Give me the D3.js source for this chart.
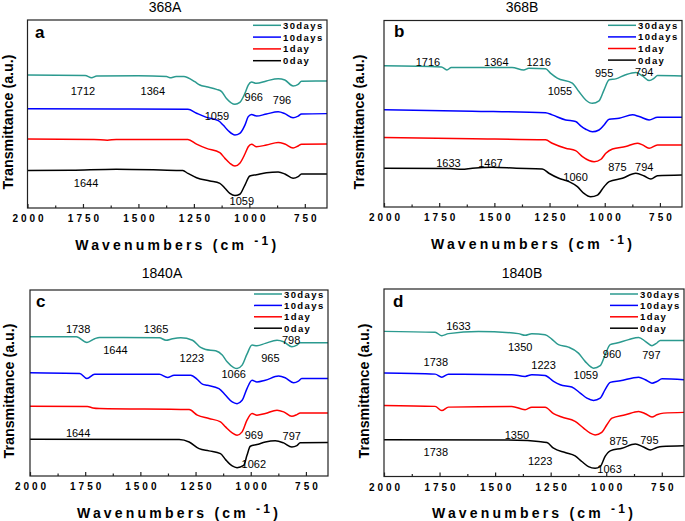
<!DOCTYPE html>
<html><head><meta charset="utf-8">
<script src="https://cdn.jsdelivr.net/npm/d3@7"></script>
<style>body{margin:0;background:#fff}svg{display:block;font-family:"Liberation Sans",Arial,sans-serif}</style>
</head><body>
<svg id="c" width="685" height="521"></svg>
<script>
// ---------- data ----------
const seriesNames = ["30days","10days","1day","0day"];
const seriesColors = ["#2b9a8f","#0000ff","#ff0000","#000000"];
const majorTicks = [2000,1750,1500,1250,1000,750];
const minorTicks = [1875,1625,1375,1125,875];
const panelTitles = ["368A","368B","1840A","1840B"];
const panelLetters = ["a","b","c","d"];

// panel a (368A) : [wavenumber, transmittance a.u.]
const a30 = [[2000,70.7],[1740,70.5],[1711,69.3],[1688,70.2],[1500,70.4],[1373,69.9],[1358,69.3],[1330,69.9],[1295,69.9],[1277,69.3],[1246,67.2],[1223,65.4],[1193,64.5],[1148,63.1],[1125,61.9],[1103,58.3],[1065,55.2],[1043,56.2],[1020,61.0],[1005,65.4],[990,67.0],[968,66.3],[923,67.6],[870,68.8],[840,68.1],[803,64.9],[780,65.8],[765,67.4],[700,67.6],[650,67.6]];
const a10 = [[2000,52.8],[1600,52.7],[1277,52.5],[1238,50.4],[1193,48.2],[1140,46.5],[1118,44.1],[1095,41.1],[1065,38.8],[1043,39.7],[1020,44.1],[1005,48.6],[990,49.8],[968,48.9],[923,50.0],[870,51.2],[840,50.2],[803,48.0],[780,48.9],[765,50.0],[650,50.2]];
const a1 = [[2000,36.7],[1700,36.5],[1640,36.1],[1600,36.5],[1277,36.5],[1238,34.0],[1193,31.7],[1133,29.4],[1110,26.4],[1088,23.8],[1065,22.3],[1043,23.8],[1020,28.7],[1005,32.6],[990,33.9],[968,32.6],[923,33.5],[870,34.9],[840,34.0],[803,31.9],[780,33.0],[765,33.9],[650,34.0]];
const a0 = [[2000,19.9],[1800,20.1],[1600,20.6],[1400,20.2],[1300,19.9],[1277,18.4],[1238,16.1],[1178,14.4],[1133,13.1],[1110,10.5],[1088,7.8],[1065,6.6],[1043,7.3],[1020,12.2],[998,17.0],[968,17.7],[923,18.8],[870,19.1],[840,18.1],[803,15.8],[780,16.7],[765,18.1],[650,18.1]];
// panel b (368B)
const b30 = [[2000,75.7],[1740,75.1],[1715,73.5],[1695,74.8],[1420,74.8],[1367,73.5],[1344,74.4],[1268,74.1],[1246,71.8],[1215,69.1],[1147,66.4],[1117,61.9],[1086,57.4],[1056,55.6],[1026,56.9],[1003,62.8],[980,68.2],[950,68.7],[905,70.9],[859,72.1],[829,70.3],[799,67.8],[776,69.1],[761,70.5],[650,70.3]];
const b10 = [[2000,52.1],[1600,51.4],[1268,50.6],[1238,49.4],[1177,46.7],[1132,45.8],[1109,43.5],[1086,41.7],[1056,40.3],[1026,41.3],[1003,44.0],[980,47.1],[935,47.6],[874,49.4],[844,48.5],[799,46.7],[761,48.1],[650,48.1]];
const b1 = [[2000,37.2],[1600,36.6],[1268,36.0],[1238,34.2],[1177,31.5],[1132,30.2],[1101,27.0],[1071,24.9],[1048,24.3],[1017,25.6],[995,28.8],[965,31.1],[905,32.4],[852,34.2],[829,33.3],[799,31.5],[761,33.3],[650,33.3]];
const b0 = [[2000,20.8],[1700,20.6],[1647,20.2],[1600,20.8],[1511,21.3],[1400,20.8],[1283,20.4],[1253,18.1],[1208,15.4],[1162,13.6],[1124,10.9],[1094,7.3],[1064,5.5],[1033,6.4],[1003,10.9],[980,13.6],[920,15.4],[859,18.1],[821,16.6],[791,15.0],[761,16.8],[650,17.2]];
// panel c (1840A)
const c30 = [[2000,74.9],[1790,74.9],[1742,71.8],[1707,73.8],[1685,74.5],[1414,74.3],[1384,73.0],[1354,73.8],[1317,74.3],[1264,73.0],[1227,69.1],[1204,68.0],[1159,67.3],[1129,65.0],[1107,61.4],[1077,58.3],[1062,57.8],[1039,59.6],[1017,65.5],[994,70.4],[972,70.0],[934,71.3],[881,73.0],[851,72.2],[814,69.5],[791,70.4],[776,71.7],[650,71.7]];
const c10 = [[2000,55.5],[1775,55.1],[1742,52.4],[1707,54.7],[1414,54.7],[1377,53.0],[1347,54.2],[1272,54.2],[1242,51.9],[1219,49.4],[1197,48.8],[1144,47.0],[1114,43.4],[1084,39.8],[1062,38.9],[1039,40.7],[1017,47.0],[994,51.5],[972,50.6],[934,51.5],[874,53.7],[844,52.8],[806,50.1],[784,51.0],[769,52.4],[650,52.4]];
const c1 = [[2000,37.5],[1740,37.3],[1715,36.6],[1685,36.3],[1279,35.7],[1242,32.7],[1189,30.9],[1137,29.1],[1114,26.4],[1084,23.2],[1062,21.9],[1039,23.7],[1017,30.0],[994,33.6],[972,32.7],[934,33.6],[881,35.4],[851,34.5],[814,32.1],[791,33.0],[776,33.9],[650,33.9]];
const c0 = [[2000,19.7],[1324,19.6],[1279,18.3],[1234,14.7],[1189,13.5],[1137,12.0],[1114,8.8],[1084,5.4],[1062,4.5],[1032,5.7],[1017,11.1],[1002,16.0],[972,16.9],[934,18.3],[889,19.0],[851,17.8],[814,15.6],[791,16.3],[776,17.9],[650,18.0]];
// panel d (1840B)
const d30 = [[2000,77.4],[1770,76.9],[1740,75.1],[1710,76.2],[1575,77.4],[1395,76.2],[1365,75.3],[1335,76.2],[1275,75.6],[1245,73.3],[1215,70.3],[1170,69.0],[1125,65.8],[1095,61.4],[1057,57.8],[1027,59.1],[1005,64.9],[982,70.3],[952,71.2],[899,73.0],[854,74.2],[824,72.1],[794,69.8],[772,71.2],[757,72.6],[650,72.6]];
const d10 = [[2000,55.2],[1770,54.6],[1740,53.0],[1710,54.6],[1425,54.3],[1365,53.4],[1335,54.3],[1275,53.9],[1237,50.7],[1207,48.9],[1155,47.7],[1117,44.5],[1087,41.8],[1057,40.6],[1027,41.8],[1005,46.3],[982,50.2],[937,51.1],[854,53.0],[824,51.6],[794,49.8],[772,50.7],[749,52.1],[650,51.6]];
const d1 = [[2000,37.9],[1770,37.4],[1740,35.2],[1710,37.0],[1425,37.4],[1365,35.6],[1335,37.0],[1275,37.0],[1237,33.5],[1200,31.7],[1140,29.4],[1102,25.8],[1072,23.1],[1050,22.2],[1020,23.5],[997,27.6],[974,31.1],[914,32.9],[854,34.7],[824,33.5],[794,31.7],[772,32.9],[742,33.8],[650,34.2]];
const d0 = [[2000,19.6],[1400,19.4],[1305,18.7],[1267,18.1],[1237,15.1],[1185,12.8],[1140,11.0],[1110,8.0],[1080,5.3],[1050,4.4],[1027,5.3],[1005,10.7],[982,13.7],[929,15.1],[869,17.3],[832,15.7],[802,14.2],[772,15.5],[749,16.0],[650,16.4]];

// peak annotations: [label, wavenumber position, a.u. position]
const annA = [["1712",1750,62.2],["1364",1435,62.2],["966",980,59.0],["796",853,57.4],["1059",1146,48.9],["1644",1736,13.3],["1059",1034,3.7]];
const annB = [["1716",1801,78.0],["1364",1491,78.0],["1216",1299,78.0],["955",1003,72.1],["794",821,72.6],["1055",1203,62.4],["1633",1708,23.8],["1467",1518,23.4],["875",943,21.6],["794",821,21.6],["1060",1132,16.3]];
const annC = [["1738",1782,78.8],["1365",1429,78.8],["1644",1613,68.0],["798",817,73.3],["965",911,63.5],["1223",1267,63.5],["1066",1077,54.7],["1644",1782,23.2],["969",986,21.9],["797",814,21.4],["1062",986,6.3]];
const annD = [["1633",1665,80.1],["1350",1387,69.0],["960",974,65.3],["797",797,64.9],["1738",1767,61.0],["1223",1282,59.6],["1059",1092,53.9],["1350",1402,22.2],["875",944,19.2],["795",806,19.6],["1738",1767,13.3],["1223",1297,8.4],["1063",985,4.1]];

// ---------- layout ----------
const layouts = [
  {l:27.5,r:327,t:20,b:208,tx:165,ty:12,lx:35,ly:38,yx:12.5,yy:122,lg0:5.3,lgs:11.8},
  {l:384,r:682,t:20.5,b:207,tx:522,ty:12,lx:394,ly:37,yx:364,yy:122,lg0:4.8,lgs:11.6},
  {l:30,r:328,t:290,b:476,tx:162,ty:278,lx:36,ly:307,yx:13.5,yy:391,lg0:4,lgs:11.4},
  {l:384,r:684,t:289,b:476.5,tx:522,ty:278,lx:393,ly:307,yx:369,yy:391,lg0:5,lgs:11.4}
];
const panelSeries = [[a30,a10,a1,a0],[b30,b10,b1,b0],[c30,c10,c1,c0],[d30,d10,d1,d0]];
const panelAnn = [annA,annB,annC,annD];

const svg = d3.select("#c");

layouts.forEach((L,i)=>{
  const x = d3.scaleLinear().domain([2000,650]).range([L.l,L.r]);
  const y = d3.scaleLinear().domain([0,100]).range([L.b,L.t]);
  const g = svg.append("g");

  // title
  g.append("text").attr("x",L.tx).attr("y",L.ty).attr("text-anchor","middle")
    .attr("font-size",14).text(panelTitles[i]);
  // y label
  g.append("text").attr("transform",`translate(${L.yx},${L.yy}) rotate(-90)`)
    .attr("text-anchor","middle").attr("font-size",14.3).attr("font-weight","bold")
    .text("Transmittance (a.u.)");

  // lines
  const line = d3.line().x(d=>x(d[0])).y(d=>y(d[1])).curve(d3.curveMonotoneX);
  panelSeries[i].forEach((s,k)=>{
    g.append("path").datum(s).attr("d",line).attr("fill","none")
      .attr("stroke",seriesColors[k]).attr("stroke-width",1.5);
  });

  // annotations
  g.selectAll("text.ann").data(panelAnn[i]).enter().append("text").attr("class","ann")
    .attr("x",d=>x(d[1])).attr("y",d=>y(d[2])).attr("text-anchor","middle")
    .attr("dominant-baseline","central").attr("font-size",11).text(d=>d[0]);

  // frame
  g.append("rect").attr("x",L.l).attr("y",L.t).attr("width",L.r-L.l).attr("height",L.b-L.t)
    .attr("fill","none").attr("stroke","#222").attr("stroke-width",1.2);

  // axes
  const ax = g.append("g").attr("transform",`translate(0,${L.b})`)
    .call(d3.axisBottom(x).tickValues(majorTicks).tickSize(-4).tickPadding(7).tickFormat(d3.format("d")));
  ax.select(".domain").remove();
  ax.selectAll("line").attr("stroke","#222").attr("stroke-width",1.2);
  ax.selectAll("text").attr("font-size",10).attr("font-weight","bold")
    .attr("letter-spacing","3px").attr("dx","1.5px").attr("fill","#000")
    .style("font-family",'"Liberation Sans",Arial,sans-serif');
  const mx = g.append("g").attr("transform",`translate(0,${L.b})`)
    .call(d3.axisBottom(x).tickValues(minorTicks).tickSize(-2.5).tickFormat(""));
  mx.select(".domain").remove();
  mx.selectAll("line").attr("stroke","#222").attr("stroke-width",1.2);

  // x label
  const xl = g.append("text").attr("x",(L.l+L.r)/2).attr("y",L.b+41.5).attr("text-anchor","middle")
    .attr("font-size",14).attr("font-weight","bold").attr("letter-spacing","3.2px");
  xl.append("tspan").text("Wavenumbers (cm ");
  xl.append("tspan").attr("dy",-5).attr("font-size",12).text("-1");
  xl.append("tspan").attr("dy",5).text(")");

  // panel letter
  g.append("text").attr("x",L.lx).attr("y",L.ly).attr("font-size",17).attr("font-weight","bold")
    .text(panelLetters[i]);

  // legend
  seriesNames.forEach((n,k)=>{
    const yy = L.t + L.lg0 + k*L.lgs;
    g.append("line").attr("x1",L.r-74).attr("x2",L.r-46).attr("y1",yy).attr("y2",yy)
      .attr("stroke",seriesColors[k]).attr("stroke-width",1.5);
    g.append("text").attr("x",L.r-44).attr("y",yy).attr("dominant-baseline","central")
      .attr("font-size",9.5).attr("font-weight","bold").attr("letter-spacing","1.4px").text(n);
  });
});
</script>
</body></html>
